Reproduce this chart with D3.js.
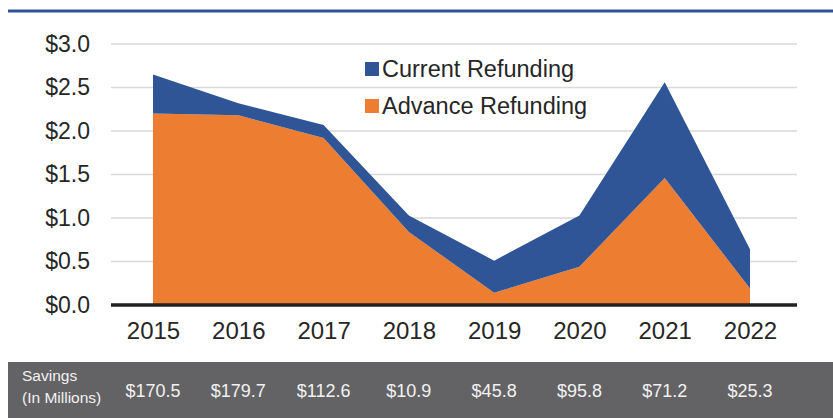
<!DOCTYPE html>
<html>
<head>
<meta charset="utf-8">
<script src="https://cdn.jsdelivr.net/npm/d3@7"></script>
<style>
  body { margin: 0; background: #fff; }
  svg { display: block; font-family: "Liberation Sans", Arial, sans-serif; }
</style>
</head>
<body>
<svg width="833" height="418"></svg>
<script>
var years = ["2015", "2016", "2017", "2018", "2019", "2020", "2021", "2022"];
var advance = [2.20, 2.18, 1.92, 0.84, 0.14, 0.44, 1.46, 0.19];
var current = [0.45, 0.14, 0.15, 0.19, 0.37, 0.59, 1.10, 0.45];
var savings = ["$170.5", "$179.7", "$112.6", "$10.9", "$45.8", "$95.8", "$71.2", "$25.3"];
var yTicks = [0, 0.5, 1, 1.5, 2, 2.5, 3];

var series = [
  {name: "Advance Refunding", values: advance, color: "#ED7D31"},
  {name: "Current Refunding", values: current, color: "#2F5597"}
];

var svg = d3.select("svg");

var x = d3.scalePoint().domain(years).range([153, 750]);
var y = d3.scaleLinear().domain([0, 3]).range([305, 44]);

// top rule
svg.append("rect")
  .attr("x", 8).attr("y", 9.5)
  .attr("width", 825).attr("height", 3)
  .attr("fill", "#2F5597");

// grid
svg.append("g")
  .selectAll("line")
  .data(yTicks.filter(function(d){ return d > 0; }))
  .enter().append("line")
  .attr("x1", 111).attr("x2", 797)
  .attr("y1", function(d){ return y(d); })
  .attr("y2", function(d){ return y(d); })
  .attr("stroke", "#d9d9d9")
  .attr("stroke-width", 1.5);

// stacked areas
var table = years.map(function(yr, i){
  return {year: yr, advance: advance[i], current: current[i]};
});
var stack = d3.stack().keys(["advance", "current"]);
var stacked = stack(table);

var area = d3.area()
  .x(function(d){ return x(d.data.year); })
  .y0(function(d){ return y(d[0]); })
  .y1(function(d){ return y(d[1]); });

svg.append("g")
  .selectAll("path")
  .data(stacked)
  .enter().append("path")
  .attr("d", area)
  .attr("fill", function(d, i){ return series[i].color; });

// zero line
svg.append("line")
  .attr("x1", 111).attr("x2", 797)
  .attr("y1", y(0)).attr("y2", y(0))
  .attr("stroke", "#222")
  .attr("stroke-width", 3.5);

// y axis labels
var yAxis = d3.axisLeft(y)
  .tickValues(yTicks)
  .tickSize(0)
  .tickPadding(0)
  .tickFormat(function(d){ return "$" + d3.format(".1f")(d); });

var yg = svg.append("g")
  .attr("transform", "translate(90,0)")
  .call(yAxis);
yg.select(".domain").remove();
yg.selectAll("text")
  .attr("font-size", 23)
  .attr("font-family", "Liberation Sans, Arial, sans-serif")
  .attr("fill", "#262626");

// x axis labels
var xAxis = d3.axisBottom(x).tickSize(0).tickPadding(0);
var xg = svg.append("g")
  .attr("transform", "translate(0,322)")
  .call(xAxis);
xg.select(".domain").remove();
xg.selectAll("text")
  .attr("font-size", 24)
  .attr("font-family", "Liberation Sans, Arial, sans-serif")
  .attr("fill", "#262626");

// legend
var legend = svg.append("g")
  .selectAll("g")
  .data([series[1], series[0]])
  .enter().append("g")
  .attr("transform", function(d, i){ return "translate(365," + (62 + i * 37) + ")"; });
legend.append("rect")
  .attr("width", 14).attr("height", 14)
  .attr("fill", function(d){ return d.color; });
legend.append("text")
  .attr("x", 17).attr("y", 15)
  .attr("font-size", 23.5)
  .attr("fill", "#262626")
  .text(function(d){ return d.name; });

// savings band
svg.append("rect")
  .attr("x", 8).attr("y", 362)
  .attr("width", 825).attr("height", 56)
  .attr("fill", "#636365");

var band = svg.append("g").attr("fill", "#f2f2f2");
band.append("text")
  .attr("x", 22).attr("y", 381)
  .attr("font-size", 15.5)
  .text("Savings");
band.append("text")
  .attr("x", 22).attr("y", 403)
  .attr("font-size", 15.5)
  .text("(In Millions)");
band.selectAll("text.val")
  .data(savings)
  .enter().append("text")
  .attr("class", "val")
  .attr("x", function(d, i){ return x(years[i]); })
  .attr("y", 397)
  .attr("text-anchor", "middle")
  .attr("font-size", 18)
  .text(function(d){ return d; });
</script>
</body>
</html>
